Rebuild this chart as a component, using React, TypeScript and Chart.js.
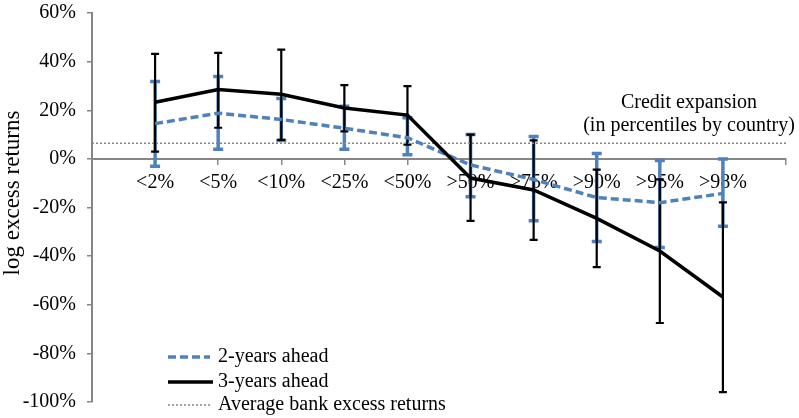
import React, { useEffect, useRef } from 'react';
import { Chart, registerables } from 'chart.js';

Chart.register(...registerables);

// ---- data ----
const categories = ['<2%', '<5%', '<10%', '<25%', '<50%', '>50%', '>75%', '>90%', '>95%', '>98%'];
const twoYear = [14.5, 18.8, 16.2, 12.6, 8.7, -2.5, -8.5, -15.9, -18.0, -14.2];
const twoYearLow = [-3.0, 4.0, 7.6, 4.0, 1.7, -15.6, -25.5, -34.0, -36.5, -27.7];
const twoYearHigh = [31.8, 33.9, 24.8, 21.6, 16.9, 10.0, 9.2, 2.2, -0.7, 0.0];
const threeYear = [23.3, 28.5, 26.6, 20.9, 18.0, -7.9, -12.8, -24.5, -37.9, -56.8];
const threeYearLow = [3.0, 12.8, 7.8, 11.3, 5.9, -25.5, -33.3, -44.5, -67.5, -95.9];
const threeYearHigh = [43.2, 43.6, 44.9, 30.3, 29.9, 10.0, 7.6, -4.4, -8.4, -17.9];
const avgBankReturn = 6.4;
const yMin = -100;
const yMax = 60;
const yStep = 20;
const seriesLabels = ['2-years ahead', '3-years ahead', 'Average bank excess returns'];
const annotationLines = ['Credit expansion', '(in percentiles by country)'];
const yTitle = 'log excess returns';

const BLUE = '#4F81BD';
const GRAY = '#868686';
const FONT = '"Liberation Serif", "Times New Roman", serif';

export default function App() {
  const ref = useRef<HTMLCanvasElement>(null);

  useEffect(() => {
    document.body.style.margin = '0';
    const canvas = ref.current;
    if (!canvas) return;
    Chart.defaults.font.family = FONT;
    Chart.defaults.color = '#000';

    const axisLabels = ['', ...categories, ''];
    const pad = (arr: number[]) => [null, ...arr, null];

    const errorBars = {
      id: 'errorBars',
      beforeDatasetsDraw(chart: any) {
        const { ctx, scales } = chart;
        const x = scales.x;
        const y = scales.y;
        const draw = (low: number[], high: number[], color: string, lw: number, cap: number) => {
          ctx.save();
          ctx.strokeStyle = color;
          ctx.lineWidth = lw;
          low.forEach((lo, i) => {
            const px = x.getPixelForValue(i + 1);
            const yl = y.getPixelForValue(lo);
            const yh = y.getPixelForValue(high[i]);
            ctx.beginPath();
            ctx.moveTo(px, yl);
            ctx.lineTo(px, yh);
            ctx.moveTo(px - cap / 2, yl);
            ctx.lineTo(px + cap / 2, yl);
            ctx.moveTo(px - cap / 2, yh);
            ctx.lineTo(px + cap / 2, yh);
            ctx.stroke();
          });
          ctx.restore();
        };
        draw(twoYearLow, twoYearHigh, BLUE, 3.5, 10);
        draw(threeYearLow, threeYearHigh, '#000', 2.2, 8);
      },
    };

    const customText = {
      id: 'customText',
      afterDraw(chart: any) {
        const { ctx, chartArea } = chart;
        ctx.save();
        ctx.font = `20px ${FONT}`;
        ctx.fillStyle = '#000';
        ctx.textBaseline = 'middle';
        ctx.textAlign = 'left';
        const x0 = chartArea.left + 76;
        const rows = [chartArea.bottom - 45, chartArea.bottom - 20, chartArea.bottom + 3];
        const styles = [
          { color: BLUE, width: 3.5, dash: [8, 4], len: 42 },
          { color: '#000', width: 3.5, dash: [], len: 45 },
          { color: GRAY, width: 1.5, dash: [2, 2], len: 44 },
        ];
        seriesLabels.forEach((label, i) => {
          const s = styles[i];
          ctx.beginPath();
          ctx.strokeStyle = s.color;
          ctx.lineWidth = s.width;
          ctx.setLineDash(s.dash);
          ctx.moveTo(x0, rows[i]);
          ctx.lineTo(x0 + s.len, rows[i]);
          ctx.stroke();
          ctx.setLineDash([]);
          ctx.fillText(label, x0 + 50, rows[i]);
        });
        ctx.textAlign = 'center';
        const cx = chartArea.right - 97;
        ctx.fillText(annotationLines[0], cx, chartArea.top + 90);
        ctx.fillText(annotationLines[1], cx, chartArea.top + 113);
        // y axis title
        ctx.translate(13, chartArea.top + 180);
        ctx.rotate(-Math.PI / 2);
        ctx.font = `23px ${FONT}`;
        ctx.fillText(yTitle, 0, 0);
        ctx.restore();
      },
    };

    const chart = new Chart(canvas, {
      type: 'line',
      data: {
        labels: axisLabels,
        datasets: [
          {
            label: seriesLabels[1],
            data: pad(threeYear),
            borderColor: '#000',
            borderWidth: 3.5,
            pointRadius: 0,
            order: 0,
          },
          {
            label: seriesLabels[0],
            data: pad(twoYear),
            borderColor: BLUE,
            borderWidth: 3.5,
            borderDash: [8, 4],
            pointRadius: 0,
            order: 1,
          },
          {
            label: seriesLabels[2],
            data: axisLabels.map(() => avgBankReturn),
            borderColor: GRAY,
            borderWidth: 1.5,
            borderDash: [2, 2],
            pointRadius: 0,
            order: 2,
          },
        ],
      },
      options: {
        animation: false,
        responsive: false,
        devicePixelRatio: 1,
        layout: { padding: { left: 0, top: 13, right: 13, bottom: 16 } },
        plugins: { legend: { display: false }, tooltip: { enabled: false } },
        scales: {
          x: {
            type: 'category',
            position: { y: 0 } as any,
            offset: false,
            afterFit(scale: any) {
              scale.paddingLeft = 0;
              scale.paddingRight = 0;
            },
            grid: { display: true, drawOnChartArea: false, drawTicks: true, tickLength: 5, color: GRAY, lineWidth: 1.5 },
            border: { display: true, color: GRAY, width: 2 },
            ticks: { autoSkip: false, maxRotation: 0, padding: 7, font: { size: 20, family: FONT }, color: '#000' },
          },
          y: {
            min: yMin,
            max: yMax,
            afterFit(scale: any) {
              scale.width = 92;
              scale.paddingTop = 0;
              scale.paddingBottom = 0;
            },
            grid: { display: true, drawOnChartArea: false, drawTicks: true, tickLength: 5, color: GRAY, lineWidth: 1.5 },
            border: { display: true, color: GRAY, width: 2 },
            ticks: {
              stepSize: yStep,
              padding: 11,
              font: { size: 20, family: FONT },
              color: '#000',
              callback: (v: any) => `${v}%`,
            },
          },
        },
      },
      plugins: [errorBars, customText],
    });
    return () => chart.destroy();
  }, []);

  return (
    <div style={{ width: 799, height: 418 }}>
      <canvas ref={ref} width={799} height={418} />
    </div>
  );
}
